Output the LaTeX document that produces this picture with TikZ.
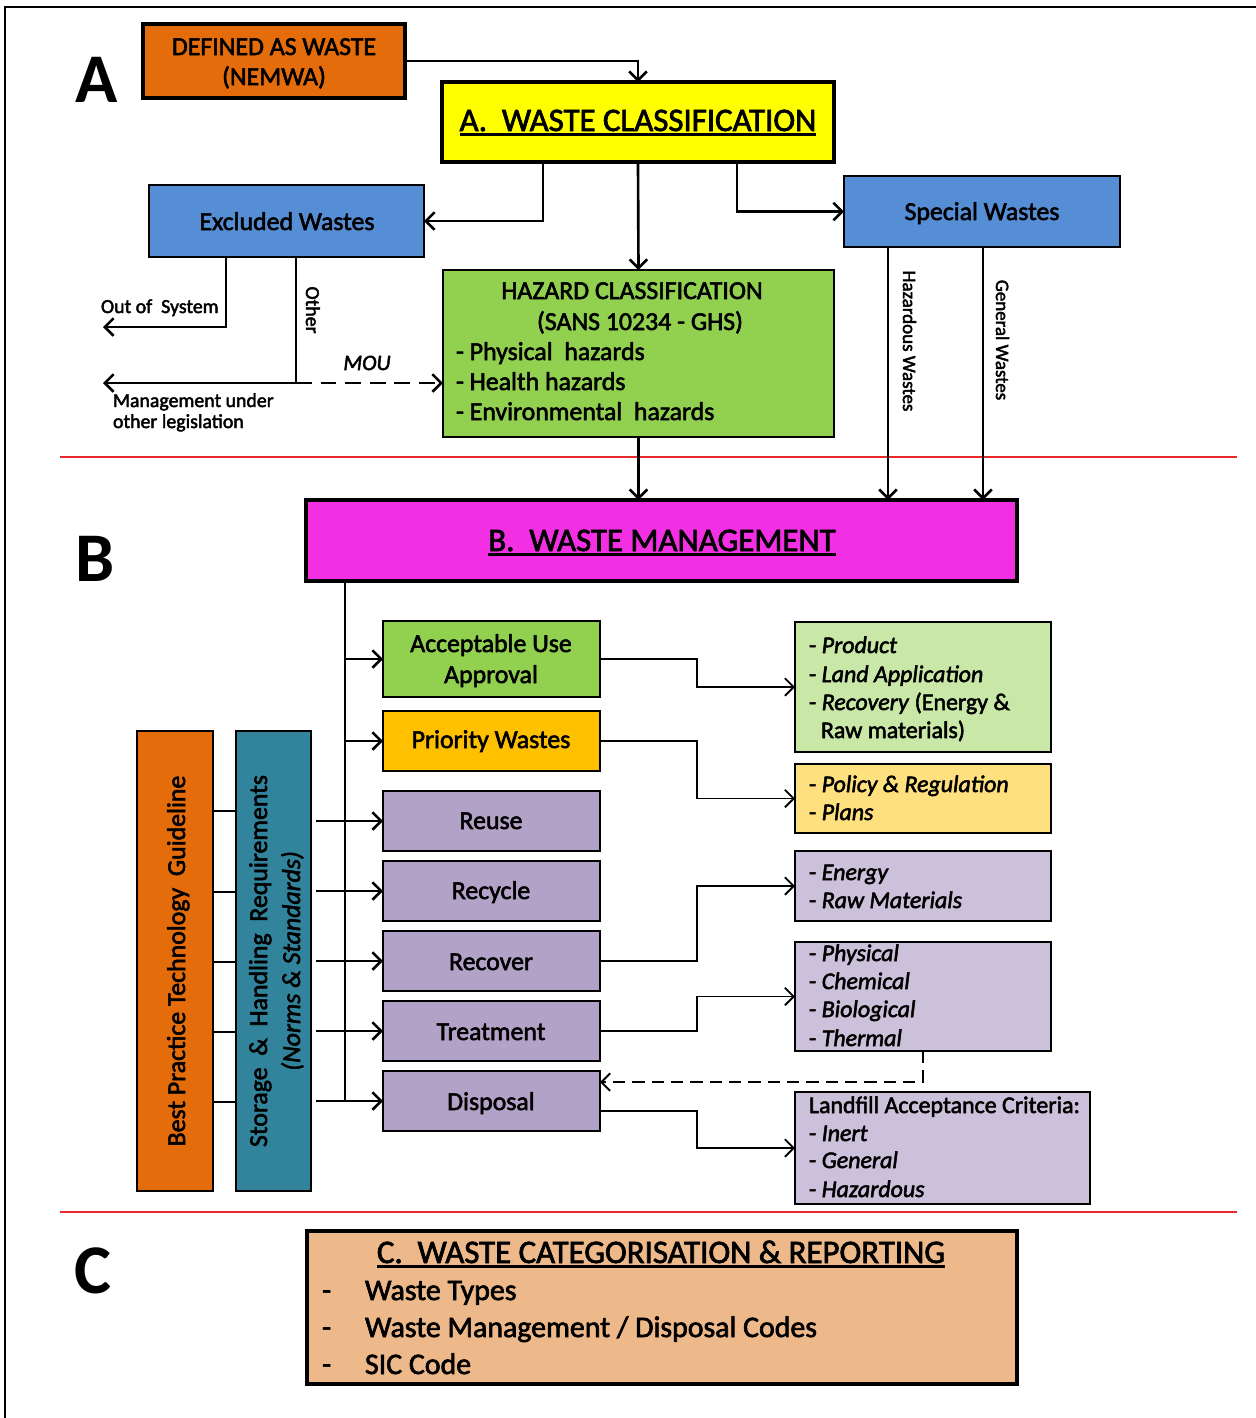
\documentclass[tikz,border=0pt]{standalone}
\usepackage{fontspec}
\setmainfont[FakeBold=2.2]{Carlito}
\newfontfamily\bigfont{Carlito}
\usetikzlibrary{arrows.meta}
\definecolor{cOrange}{HTML}{E46C0A}
\definecolor{cYellow}{HTML}{FFFF00}
\definecolor{cBlue}{HTML}{558ED5}
\definecolor{cGreen}{HTML}{92D050}
\definecolor{cMag}{HTML}{F22FE3}
\definecolor{cGold}{HTML}{FFC000}
\definecolor{cPurple}{HTML}{B3A2C7}
\definecolor{cLGreen}{HTML}{C9E7A7}
\definecolor{cLYellow}{HTML}{FFE07F}
\definecolor{cLPurple}{HTML}{CCC1DA}
\definecolor{cTeal}{HTML}{31849B}
\definecolor{cTan}{HTML}{EDB98A}
\definecolor{cRed}{HTML}{E8282A}
\newsavebox\ulbox
\newcommand\myul[1]{\sbox\ulbox{#1}\rlap{\rule[-2.6pt]{\wd\ulbox}{1.2pt}}\usebox\ulbox}
\newcommand\bx[7]{\node[#6,minimum width={(#4-#2)*0.02cm},minimum height={(#5-#3)*0.02cm}] (#1) at ({(#2+#4)/2},{(#3+#5)/2}) {#7};}
\tikzset{
 fT/.style={font=\fontsize{18.7pt}{22pt}\selectfont},
 fM/.style={font=\fontsize{14.7pt}{17pt}\selectfont},
 fI/.style={font=\fontsize{13.6pt}{16pt}\selectfont},
 fC/.style={font=\fontsize{17pt}{20pt}\selectfont},
 fS/.style={font=\fontsize{11.3pt}{13pt}\selectfont},
 fV/.style={font=\fontsize{10.8pt}{13pt}\selectfont},
 fBig/.style={font=\bigfont\fontsize{39.7pt}{44pt}\selectfont\bfseries},
 txt/.style={inner sep=0pt, outer sep=0pt, anchor=base},
 txtl/.style={inner sep=0pt, outer sep=0pt, anchor=base west},
 box/.style={draw=black, line width=1.1pt, inner sep=0pt, outer sep=0pt, rectangle},
 tbox/.style={box, line width=2.4pt},
 arr/.style={line width=1.5pt, -{Straight Barb[length=5pt,width=10pt]}},
 arrs/.style={line width=1.1pt, -{Straight Barb[length=5pt,width=10pt]}},
 ln/.style={line width=1.5pt},
 redline/.style={draw=cRed, line width=1pt},
}
\begin{document}
\begin{tikzpicture}[x=0.02cm,y=-0.02cm]
\useasboundingbox (0,0) rectangle (1256,1418);
\draw[line width=1.1pt] (5,1418) -- (5,7) -- (1256,7);
% red separators
\draw[redline] (60,457) -- (1237,457);
\draw[redline] (60,1212) -- (1237,1212);
% big letters
\node[txt,fBig] (LA) at (97,102) {A};
\node[txt,fBig] (LB) at (95,581) {B};
\node[txt,fBig] (LC) at (93,1293) {C};
% section A boxes
\bx{defined}{143}{24}{405}{98}{tbox,fill=cOrange}{}
\bx{classA}{442}{82}{834}{162}{tbox,fill=cYellow}{}
\bx{excluded}{149}{185}{424}{257}{box,fill=cBlue}{}
\bx{special}{844}{176}{1120}{247}{box,fill=cBlue}{}
\bx{hazard}{443}{270}{834}{437}{box,fill=cGreen}{}
\node[txt,fM] (def1) at (274,55) {DEFINED AS WASTE};
\node[txt,fM] (def2) at (274,85) {(NEMWA)};
\node[txt,fT] (clsT) at (638,131) {\myul{A.\ \ WASTE CLASSIFICATION}};
\node[txt,fM] (excT) at (287,230) {Excluded Wastes};
\node[txt,fM] (speT) at (982,220) {Special Wastes};
\node[txt,fM] (haz1) at (632,299) {HAZARD CLASSIFICATION};
\node[txt,fM] (haz2) at (640,330) {(SANS 10234 - GHS)};
\node[txtl,fM] (haz3) at (456,360) {- Physical\ \ hazards};
\node[txtl,fM] (haz4) at (456,390) {- Health hazards};
\node[txtl,fM] (haz5) at (456,420) {- Environmental\ \ hazards};
% section A connectors
\coordinate (cA1) at (543,162);
\coordinate (cA2) at (737,162);
\coordinate (ex1) at (226,257);
\coordinate (ex2) at (296,257);
\coordinate (outS) at (103,327);
\coordinate (jn) at (296,383);
\coordinate (outM) at (103,383);
\coordinate (hzin) at (443,383);
\coordinate (sp1) at (888,247);
\coordinate (sp2) at (983,247);
\coordinate (mg1) at (888,500);
\coordinate (mg2) at (983,500);
\draw[arr] (defined.east) -| (classA.north);
\draw[arr] (cA1) |- (excluded.east);
\draw[arr] (cA2) |- (special.west);
\draw[arr] (classA.south) -- (hazard.north);
\draw[arr] (ex1) |- (outS);
\draw[ln] (ex2) -- (jn);
\draw[arr] (jn) -- (outM);
\draw[arr,dashed,dash pattern=on 9pt off 5pt] (jn) -- (hzin);
\node[txtl,fS] (outT) at (101,313) {Out of\ \ System};
\node[txt,fS,rotate=-90] (othT) at (306,310) {Other};
\node[txt,fS,font=\fontsize{12.5pt}{14pt}\selectfont\itshape] (mouT) at (367,370) {MOU};
\node[txtl,fS] (mu1) at (113,407) {Management under};
\node[txtl,fS] (mu2) at (113,428) {other legislation};
\draw[arr] (sp1) -- (mg1);
\draw[arr] (sp2) -- (mg2);
\node[txt,fV,rotate=-90] (hzW) at (903,341) {Hazardous Wastes};
\node[txt,fV,rotate=-90] (gnW) at (996,340) {General Wastes};
% section B
\bx{mgmt}{306}{500}{1017}{581}{tbox,fill=cMag}{}
\draw[arr] (hazard.south) -- (hazard.south |- mgmt.north);
\node[txt,fT] (mgT) at (662,551) {\myul{B.\ \ WASTE MANAGEMENT}};
\bx{aua}{383}{621}{600}{697}{box,fill=cGreen}{}
\bx{prio}{383}{711}{600}{771}{box,fill=cGold}{}
\bx{reuse}{383}{791}{600}{851}{box,fill=cPurple}{}
\bx{recycle}{383}{861}{600}{921}{box,fill=cPurple}{}
\bx{recover}{383}{931}{600}{991}{box,fill=cPurple}{}
\bx{treat}{383}{1001}{600}{1061}{box,fill=cPurple}{}
\bx{disp}{383}{1071}{600}{1131}{box,fill=cPurple}{}
\bx{bpt}{137}{731}{213}{1191}{box,fill=cOrange}{}
\bx{shr}{236}{731}{311}{1191}{box,fill=cTeal}{}
\bx{r1}{795}{622}{1051}{752}{box,fill=cLGreen}{}
\bx{r2}{795}{764}{1051}{833}{box,fill=cLYellow}{}
\bx{r3}{795}{851}{1051}{921}{box,fill=cLPurple}{}
\bx{r4}{795}{942}{1051}{1051}{box,fill=cLPurple}{}
\bx{r5}{795}{1092}{1090}{1204}{box,fill=cLPurple}{}
\node[txt,fM] (auaT1) at (491,652) {Acceptable Use};
\node[txt,fM] (auaT2) at (491,683) {Approval};
\node[txt,fM] (prioT) at (491,748) {Priority Wastes};
\node[txt,fM] (reuseT) at (491,829) {Reuse};
\node[txt,fM] (recyT) at (491,899) {Recycle};
\node[txt,fM] (recoT) at (491,970) {Recover};
\node[txt,fM] (treatT) at (491,1040) {Treatment};
\node[txt,fM] (dispT) at (491,1110) {Disposal};
\node[txt,fM,rotate=90] (bptT) at (185,961) {Best Practice Technology\ \ Guideline};
\node[txt,fM,rotate=90] (shrT1) at (267,961) {Storage\ \ \&\ \ Handling\ \ Requirements};
\node[txt,fM,rotate=90] (shrT2) at (300,961) {\itshape (Norms \& Standards)};
% bus
\coordinate (bus0) at (345,581);
\coordinate (bus1) at (345,1102);
\draw[ln] (bus0) -- (bus1);
\draw[arr] (bus0 |- aua.west) -- (aua.west);
\draw[arr] (bus0 |- prio.west) -- (prio.west);
\foreach \n in {reuse,recycle,recover,treat,disp}{
  \draw[arr] ([xshift=0.1cm]shr.east |- \n.west) -- (\n.west);
}
\foreach \yy in {811,892,962,1032,1102}{
  \draw[ln] (bpt.east |- 0,\yy) -- (shr.west |- 0,\yy);
}
% right connectors
\draw[arrs] (aua.east) -- ++(97,0) |- (r1.west);
\draw[arrs] (prio.east) -- ++(97,0) |- (r2.west);
\draw[arrs] (recover.east) -- ++(97,0) |- (r3.west);
\draw[arrs] (treat.east) -- ++(97,0) |- (r4.west);
\draw[arrs] ([yshift=-0.2cm]disp.east) -- ++(97,0) |- (r5.west);
\coordinate (dsin) at (600,1082);
\draw[arrs,dashed,dash pattern=on 7pt off 4pt] (r4.south) |- (dsin);
% right texts
\node[txtl,fI] (r1a) at (809,653) {- \textit{Product}};
\node[txtl,fI] (r1b) at (809,682) {- \textit{Land Application}};
\node[txtl,fI] (r1c) at (809,710) {- \textit{Recovery} (Energy \&};
\node[txtl,fI] (r1d) at (821,738) {Raw materials)};
\node[txtl,fI] (r2a) at (809,792) {- \textit{Policy \& Regulation}};
\node[txtl,fI] (r2b) at (809,820) {- \textit{Plans}};
\node[txtl,fI] (r3a) at (809,880) {- \textit{Energy}};
\node[txtl,fI] (r3b) at (809,908) {- \textit{Raw Materials}};
\node[txtl,fI] (r4a) at (809,961) {- \textit{Physical}};
\node[txtl,fI] (r4b) at (809,989) {- \textit{Chemical}};
\node[txtl,fI] (r4c) at (809,1017) {- \textit{Biological}};
\node[txtl,fI] (r4d) at (809,1046) {- \textit{Thermal}};
\node[txtl,fI] (r5a) at (809,1113) {Landfill Acceptance Criteria:};
\node[txtl,fI] (r5b) at (809,1141) {- \textit{Inert}};
\node[txtl,fI] (r5c) at (809,1168) {- \textit{General}};
\node[txtl,fI] (r5d) at (809,1197) {- \textit{Hazardous}};
% section C
\bx{cbox}{307}{1231}{1017}{1384}{tbox,fill=cTan}{}
\node[txt,fT] (cT) at (661,1263) {\myul{C.\ \ WASTE CATEGORISATION \& REPORTING}};
\node[txtl,fC] (cd1) at (322,1300) {-};
\node[txtl,fC] (cd2) at (322,1337) {-};
\node[txtl,fC] (cd3) at (322,1374) {-};
\node[txtl,fC] (ci1) at (365,1300) {Waste Types};
\node[txtl,fC] (ci2) at (365,1337) {Waste Management / Disposal Codes};
\node[txtl,fC] (ci3) at (365,1374) {SIC Code};
\end{tikzpicture}
\end{document}
